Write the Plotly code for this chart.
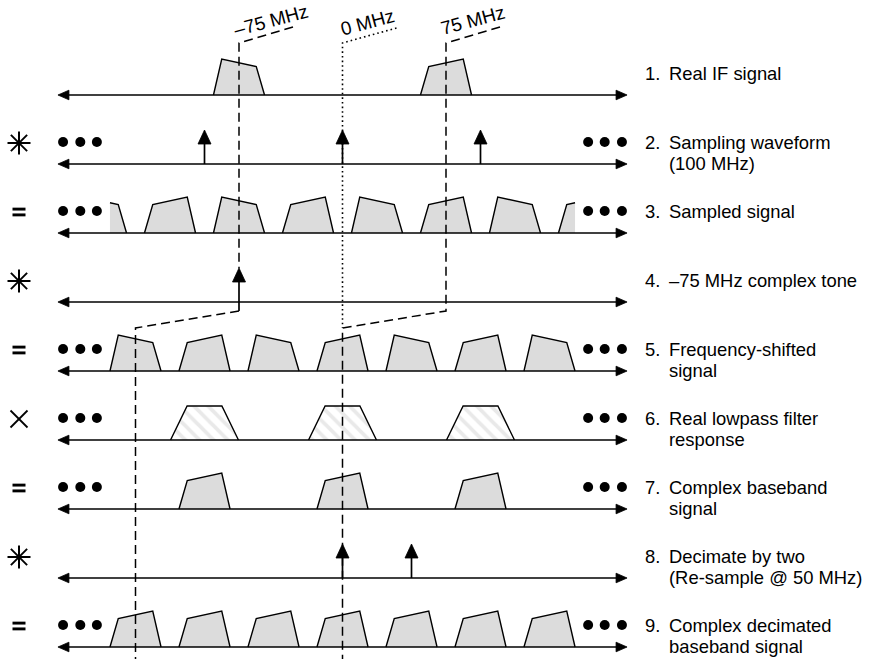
import plotly.graph_objects as go

# ---------------- data (frequencies in MHz, levels in amplitude units) ----------------
ROW_LABELS = [
    ["1.", "Real IF signal"],
    ["2.", "Sampling waveform", "(100 MHz)"],
    ["3.", "Sampled signal"],
    ["4.", "\u201375 MHz complex tone"],
    ["5.", "Frequency-shifted", "signal"],
    ["6.", "Real lowpass filter", "response"],
    ["7.", "Complex baseband", "signal"],
    ["8.", "Decimate by two", "(Re-sample @ 50 MHz)"],
    ["9.", "Complex decimated", "baseband signal"],
]
ROW_OPERATORS = ["", "conv", "=", "conv", "=", "times", "=", "conv", "="]
TOP_MARKER_TEXT = ["\u201375 MHz", "0 MHz", "75 MHz"]
TOP_MARKER_FREQS = [-75, 0, 75]

BAND_OFFSETS = [-18.5, -12.5, 12.5, 18.5]
RISING_LEVELS = [0, 28.5, 36, 0]
FALLING_LEVELS = [0, 36, 28.5, 0]
FILTER_OFFSETS = [-24.6, -12.6, 12.6, 24.6]
FILTER_LEVELS = [0, 34, 34, 0]
IMPULSE_LEVEL = 34

ROW1_RISING = [75]
ROW1_FALLING = [-75]
ROW2_IMPULSES = [-100, 0, 100]
ROW3_RISING = [-125, -25, 75, 175]
ROW3_FALLING = [-175, -75, 25, 125]
ROW3_LIMIT = 168.5
ROW4_IMPULSES = [-75]
ROW5_RISING = [-100, 0, 100]
ROW5_FALLING = [-150, -50, 50, 150]
ROW6_FILTERS = [-100, 0, 100]
ROW7_RISING = [-100, 0, 100]
ROW8_IMPULSES = [0, 50]
ROW9_RISING = [-150, -100, -50, 0, 50, 100, 150]
ELLIPSIS_FREQS = [178, 190, 202.5]
ELLIPSIS_ROWS = [1, 2, 4, 5, 6, 8]
AXIS_LIMIT = 206.2

# ---------------- geometry ----------------
W, H = 870, 659
X0_PX = 342.5
PX_PER_MHZ = 1.38
ROW_Y0, ROW_DY = 95, 69


def fx(px):
    return (px - X0_PX) / PX_PER_MHZ


def mhz(px_len):
    return px_len / PX_PER_MHZ


def base(i):
    return ROW_Y0 + ROW_DY * i


FONT = dict(family="Liberation Sans, Arial, sans-serif", size=18.4, color="black")
TOP_FONT = dict(family="Liberation Sans, Arial, sans-serif", size=19, color="black")

fig = go.Figure()

fill_x, fill_y, out_x, out_y = [], [], [], []
hat_x, hat_y, hout_x, hout_y = [], [], [], []


def clip_poly(xs, ys, lo, hi):
    rx, ry = [], []
    for i in range(len(xs) - 1):
        x1, y1, x2, y2 = xs[i], ys[i], xs[i + 1], ys[i + 1]
        a, b = max(x1, lo), min(x2, hi)
        if a > b:
            continue
        ya = y1 + (y2 - y1) * (a - x1) / (x2 - x1)
        yb = y1 + (y2 - y1) * (b - x1) / (x2 - x1)
        if not rx or rx[-1] != a:
            rx.append(a)
            ry.append(ya)
        rx.append(b)
        ry.append(yb)
    return rx, ry


def add_band(center, levels, row, offsets=BAND_OFFSETS, limit=None, hatch=False):
    b = base(row)
    xs = [center + o for o in offsets]
    ys = [b - l for l in levels]
    if limit is not None:
        xs, ys = clip_poly(xs, ys, -limit, limit)
        if not xs:
            return
    fx_, fy_, ox_, oy_ = (hat_x, hat_y, hout_x, hout_y) if hatch else (fill_x, fill_y, out_x, out_y)
    fx_ += xs + [xs[-1], xs[0], xs[0], None]
    fy_ += ys + [b, b, ys[0], None]
    ox_ += xs + [None]
    oy_ += ys + [None]


for c in ROW1_RISING:
    add_band(c, RISING_LEVELS, 0)
for c in ROW1_FALLING:
    add_band(c, FALLING_LEVELS, 0)
for c in ROW3_RISING:
    add_band(c, RISING_LEVELS, 2, limit=ROW3_LIMIT)
for c in ROW3_FALLING:
    add_band(c, FALLING_LEVELS, 2, limit=ROW3_LIMIT)
for c in ROW5_RISING:
    add_band(c, RISING_LEVELS, 4)
for c in ROW5_FALLING:
    add_band(c, FALLING_LEVELS, 4)
for c in ROW6_FILTERS:
    add_band(c, FILTER_LEVELS, 5, offsets=FILTER_OFFSETS, hatch=True)
for c in ROW7_RISING:
    add_band(c, RISING_LEVELS, 6)
for c in ROW9_RISING:
    add_band(c, RISING_LEVELS, 8)

fig.add_trace(go.Scatter(x=fill_x, y=fill_y, mode="none", fill="toself",
                         fillcolor="#dcdcdc", hoverinfo="skip"))
fig.add_trace(go.Scatter(x=hat_x, y=hat_y, mode="none", fill="toself",
                         fillcolor="white",
                         fillpattern=dict(shape="\\", fgcolor="#d4d4d4", bgcolor="white",
                                          size=10, solidity=0.38),
                         hoverinfo="skip"))

# ---------------- marker connector lines ----------------
SLANT_DX = mhz(54)
TOP_Y, SLANT_TOP_Y = 43, 27
BEND_Y1, BEND_Y2 = base(3) + 9, base(3) + 26
m_neg, m_zero, m_pos = TOP_MARKER_FREQS
dash_x = [m_neg + SLANT_DX, m_neg, m_neg, None,
          m_neg, 2 * m_neg, 2 * m_neg, None,
          m_pos + SLANT_DX, m_pos, m_pos, m_zero, m_zero]
dash_y = [SLANT_TOP_Y, TOP_Y, base(3) - IMPULSE_LEVEL, None,
          BEND_Y1, BEND_Y2, H, None,
          SLANT_TOP_Y, TOP_Y, BEND_Y1, BEND_Y2, H]
fig.add_trace(go.Scatter(x=dash_x, y=dash_y, mode="lines",
                         line=dict(color="black", width=1.5, dash="9px,5px"), hoverinfo="skip"))
fig.add_trace(go.Scatter(x=[m_zero + SLANT_DX, m_zero, m_zero], y=[SLANT_TOP_Y + 1, TOP_Y, BEND_Y2],
                         mode="lines", line=dict(color="black", width=1.6, dash="1.6px,3px"),
                         hoverinfo="skip"))

# outlines
fig.add_trace(go.Scatter(x=out_x, y=out_y, mode="lines", line=dict(color="black", width=1.4),
                         hoverinfo="skip"))
fig.add_trace(go.Scatter(x=hout_x, y=hout_y, mode="lines", line=dict(color="black", width=1.4),
                         hoverinfo="skip"))

# ---------------- axes with arrowheads ----------------
ARROW_LEN = mhz(11)
ARROW_HW = 4.8
ax_x, ax_y, head_x, head_y = [], [], [], []
for r in range(9):
    b = base(r)
    ax_x += [-AXIS_LIMIT + ARROW_LEN * 0.5, AXIS_LIMIT - ARROW_LEN * 0.5, None]
    ax_y += [b, b, None]
    head_x += [-AXIS_LIMIT, -AXIS_LIMIT + ARROW_LEN, -AXIS_LIMIT + ARROW_LEN, -AXIS_LIMIT, None,
               AXIS_LIMIT, AXIS_LIMIT - ARROW_LEN, AXIS_LIMIT - ARROW_LEN, AXIS_LIMIT, None]
    head_y += [b, b - ARROW_HW, b + ARROW_HW, b, None, b, b - ARROW_HW, b + ARROW_HW, b, None]

# ---------------- impulses ----------------
IMP_HEAD_LEN = 14
IMP_HEAD_HW = mhz(6.5)
imp_x, imp_y = [], []
for row, freqs in [(1, ROW2_IMPULSES), (3, ROW4_IMPULSES), (7, ROW8_IMPULSES)]:
    b = base(row)
    for f in freqs:
        bottom = BEND_Y1 if row == 3 else b
        imp_x += [f, f, None]
        imp_y += [bottom, b - IMPULSE_LEVEL + IMP_HEAD_LEN - 1, None]
        tip = b - IMPULSE_LEVEL
        head_x += [f, f - IMP_HEAD_HW, f + IMP_HEAD_HW, f, None]
        head_y += [tip, tip + IMP_HEAD_LEN, tip + IMP_HEAD_LEN, tip, None]

fig.add_trace(go.Scatter(x=ax_x, y=ax_y, mode="lines", line=dict(color="black", width=1.6),
                         hoverinfo="skip"))
fig.add_trace(go.Scatter(x=imp_x, y=imp_y, mode="lines", line=dict(color="black", width=1.7),
                         hoverinfo="skip"))
fig.add_trace(go.Scatter(x=head_x, y=head_y, mode="lines", fill="toself", fillcolor="black",
                         line=dict(color="black", width=0.8), hoverinfo="skip"))

# ---------------- ellipsis dots ----------------
dot_x, dot_y = [], []
for r in ELLIPSIS_ROWS:
    for f in ELLIPSIS_FREQS:
        dot_x += [-f, f]
        dot_y += [base(r) - 22, base(r) - 22]
fig.add_trace(go.Scatter(x=dot_x, y=dot_y, mode="markers",
                         marker=dict(color="black", size=10, line=dict(width=0)), hoverinfo="skip"))

# ---------------- operator symbols ----------------
SYM_X = fx(19)
thin_x, thin_y, thick_x, thick_y, conv_x, conv_y = [], [], [], [], [], []
for r, op in enumerate(ROW_OPERATORS):
    cy = base(r) - 21
    if op == "conv":
        R = 11.5
        for dx, dy in [(R, 0), (0, R), (R * 0.7071, R * 0.7071), (R * 0.7071, -R * 0.7071)]:
            conv_x += [SYM_X - mhz(dx), SYM_X + mhz(dx), None]
            conv_y += [cy - dy, cy + dy, None]
    elif op == "=":
        for dy in (-2.9, 2.9):
            thick_x += [SYM_X - mhz(6.5), SYM_X + mhz(6.5), None]
            thick_y += [cy + dy, cy + dy, None]
    elif op == "times":
        R = 8.5
        for s in (1, -1):
            thin_x += [SYM_X - mhz(R), SYM_X + mhz(R), None]
            thin_y += [cy - s * R, cy + s * R, None]
fig.add_trace(go.Scatter(x=conv_x, y=conv_y, mode="lines", line=dict(color="black", width=2),
                         hoverinfo="skip"))
fig.add_trace(go.Scatter(x=thick_x, y=thick_y, mode="lines", line=dict(color="black", width=2.9),
                         hoverinfo="skip"))
fig.add_trace(go.Scatter(x=thin_x, y=thin_y, mode="lines", line=dict(color="black", width=1.8),
                         hoverinfo="skip"))

# ---------------- text ----------------
annotations = []
TOP_TEXT_POS = [(271, 20), (367, 22), (472, 20)]
for t, (px, py) in zip(TOP_MARKER_TEXT, TOP_TEXT_POS):
    annotations.append(dict(x=fx(px), y=py, xref="x", yref="y", text=t, showarrow=False,
                            textangle=-15, font=TOP_FONT, xanchor="center", yanchor="middle"))
NUM_X, TXT_X = fx(643), fx(667)
for r, lab in enumerate(ROW_LABELS):
    y1 = base(r) - 21.5
    annotations.append(dict(x=NUM_X, y=y1, xref="x", yref="y", text=lab[0], showarrow=False,
                            font=FONT, xanchor="left", yanchor="middle"))
    for k, line in enumerate(lab[1:]):
        annotations.append(dict(x=TXT_X, y=y1 + 21 * k, xref="x", yref="y", text=line,
                                showarrow=False, font=FONT, xanchor="left", yanchor="middle"))

fig.update_layout(
    width=W, height=H, margin=dict(l=0, r=0, t=0, b=0, pad=0),
    paper_bgcolor="white", plot_bgcolor="white", showlegend=False,
    xaxis=dict(range=[fx(0), fx(W)], visible=False, fixedrange=True),
    yaxis=dict(range=[H, 0], visible=False, fixedrange=True),
    annotations=annotations,
)

fig.write_html("out.html", config={"displayModeBar": False},
               post_script="document.body.style.margin='0';")
